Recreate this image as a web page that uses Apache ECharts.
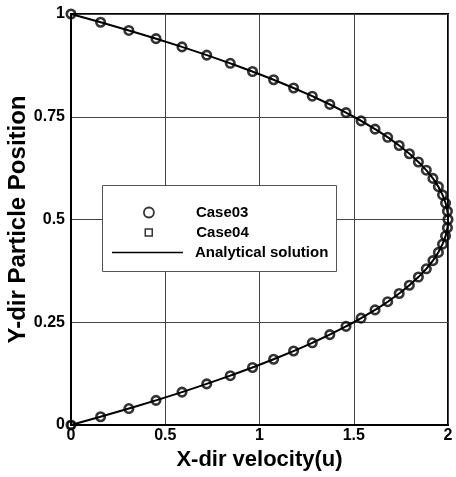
<!DOCTYPE html>
<html>
<head>
<meta charset="utf-8">
<script src="https://cdn.jsdelivr.net/npm/echarts@6/dist/echarts.min.js"></script>
<style>
  html, body { margin: 0; padding: 0; background: #fff; }
  #chart { width: 456px; height: 477px; }
</style>
</head>
<body>
<div id="chart"></div>
<script>
// Particle positions across the channel (y) and their x-direction velocity (u)
const case03Y = [1.00, 0.98, 0.96, 0.94, 0.92, 0.90, 0.88, 0.86, 0.84, 0.82, 0.80, 0.78, 0.76, 0.74, 0.72, 0.70, 0.68,
                 0.66, 0.64, 0.62, 0.60, 0.58, 0.56, 0.54, 0.52, 0.50, 0.48, 0.46, 0.44, 0.42, 0.40, 0.38, 0.36, 0.34,
                 0.32, 0.30, 0.28, 0.26, 0.24, 0.22, 0.20, 0.18, 0.16, 0.14, 0.12, 0.10, 0.08, 0.06, 0.04, 0.02, 0.00];
const case03U = [0, 0.157, 0.307, 0.451, 0.589, 0.72, 0.845, 0.963, 1.075, 1.181, 1.28, 1.373, 1.459, 1.539, 1.613, 1.68, 1.741,
                 1.795, 1.843, 1.885, 1.92, 1.949, 1.971, 1.987, 1.997, 2.0, 1.997, 1.987, 1.971, 1.949, 1.92, 1.885, 1.843, 1.795,
                 1.741, 1.68, 1.613, 1.539, 1.459, 1.373, 1.28, 1.181, 1.075, 0.963, 0.845, 0.72, 0.589, 0.451, 0.307, 0.157, 0];
// Case04 coincides with the origin point only
const case04Y = [0.00];
const case04U = [0];
// Analytical parabolic profile
const analyticY = [1.00, 0.96, 0.92, 0.88, 0.84, 0.80, 0.76, 0.72, 0.68, 0.64, 0.60, 0.56, 0.52, 0.50,
                   0.48, 0.44, 0.40, 0.36, 0.32, 0.28, 0.24, 0.20, 0.16, 0.12, 0.08, 0.04, 0.00];
const analyticU = [0, 0.307, 0.589, 0.845, 1.075, 1.28, 1.459, 1.613, 1.741, 1.843, 1.92, 1.971, 1.997, 2.0,
                   1.997, 1.971, 1.92, 1.843, 1.741, 1.613, 1.459, 1.28, 1.075, 0.845, 0.589, 0.307, 0];

const xTicks = [0, 0.5, 1, 1.5, 2];
const yTicks = [0, 0.25, 0.5, 0.75, 1];
const seriesNames = ['Case03', 'Case04', 'Analytical solution'];

const pairs = (xs, ys) => xs.map((x, i) => [x, ys[i]]);
const tickFmt = v => String(+v.toFixed(2));

const FONT = 'Liberation Sans';
const legendText = { fontFamily: FONT, fontWeight: 'bold', fontSize: 15, color: '#000' };

// One legend block per entry so each icon gets its own size
function legendEntry(name, icon, left, top, w, h, itemStyle, textPadLeft) {
  return {
    orient: 'vertical', left: left, top: top, z: 10, padding: 0,
    itemWidth: w, itemHeight: h, symbolKeepAspect: true,
    textStyle: Object.assign({ padding: [0, 0, 0, textPadLeft] }, legendText),
    data: [{ name: name, icon: icon, itemStyle: itemStyle }]
  };
}

const chart = echarts.init(document.getElementById('chart'));
chart.setOption({
  animation: false,
  backgroundColor: '#fff',
  grid: {
    left: 71, right: 8, top: 14, bottom: 52,
    outerBoundsMode: 'none', containLabel: false,
    show: true, borderColor: '#000', borderWidth: 2, backgroundColor: 'transparent'
  },
  xAxis: {
    type: 'value', min: xTicks[0], max: xTicks[xTicks.length - 1], interval: 0.5,
    name: 'X-dir velocity(u)', nameLocation: 'middle', nameGap: 24, nameMoveOverlap: false,
    nameTextStyle: { fontFamily: FONT, fontWeight: 'bold', fontSize: 22, color: '#000' },
    axisLine: { lineStyle: { color: '#000', width: 2 } },
    axisTick: { show: false },
    axisLabel: { fontFamily: FONT, fontWeight: 'bold', fontSize: 16, color: '#000', margin: 3, formatter: tickFmt },
    splitLine: { show: true, lineStyle: { color: '#444', width: 1 } }
  },
  yAxis: {
    type: 'value', min: yTicks[0], max: yTicks[yTicks.length - 1], interval: 0.25,
    name: 'Y-dir Particle Position', nameLocation: 'middle', nameGap: 41, nameMoveOverlap: false,
    nameTextStyle: { fontFamily: FONT, fontWeight: 'bold', fontSize: 24, color: '#000' },
    axisLine: { lineStyle: { color: '#000', width: 2 } },
    axisTick: { show: false },
    axisLabel: { fontFamily: FONT, fontWeight: 'bold', fontSize: 16, color: '#000', margin: 6, formatter: tickFmt },
    splitLine: { show: true, lineStyle: { color: '#444', width: 1 } }
  },
  graphic: [{
    type: 'rect', left: 102, top: 185, z: 5,
    shape: { width: 234, height: 86 },
    style: { fill: '#fff', stroke: '#555', lineWidth: 1 }
  }],
  legend: [
    legendEntry(seriesNames[0], 'circle', 143, 205, 10, 10,
      { color: 'transparent', borderColor: '#000', borderWidth: 1.8 }, 37),
    legendEntry(seriesNames[1], 'path://M0 0H10V10H0Z', 144.5, 225, 7, 7,
      { color: 'transparent', borderColor: '#000', borderWidth: 1.5 }, 39),
    legendEntry(seriesNames[2], 'path://M0 0H71V1.6H0Z', 112, 245, 71, 12,
      { color: '#000', borderWidth: 0 }, 7)
  ],
  series: [
    {
      name: seriesNames[2], type: 'line', data: pairs(analyticU, analyticY),
      smooth: true, showSymbol: false, symbol: 'none',
      lineStyle: { color: '#000', width: 2 }, itemStyle: { color: '#000' }, z: 2
    },
    {
      name: seriesNames[0], type: 'scatter', data: pairs(case03U, case03Y),
      symbol: 'circle', symbolSize: 8.5,
      itemStyle: { color: 'transparent', borderColor: '#000', borderWidth: 2.6 }, z: 3
    },
    {
      name: seriesNames[1], type: 'scatter', data: pairs(case04U, case04Y),
      symbol: 'rect', symbolSize: 6,
      itemStyle: { color: 'transparent', borderColor: '#000', borderWidth: 1.5 }, z: 3
    }
  ]
});
</script>
</body>
</html>
